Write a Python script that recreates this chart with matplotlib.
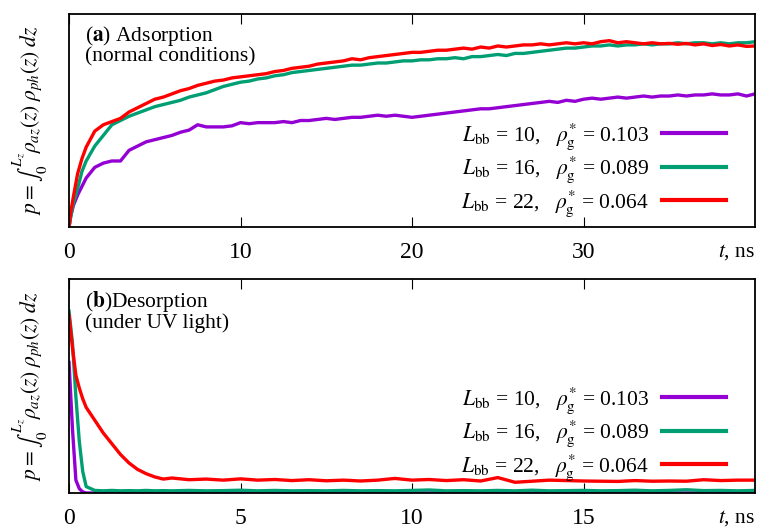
import matplotlib
matplotlib.use('Agg')
import matplotlib.pyplot as plt

plt.rcParams['font.family'] = ['Liberation Serif', 'DejaVu Serif']
plt.rcParams['mathtext.fontset'] = 'stix'
plt.rcParams['font.size'] = 15.5

# === Data (p normalised to the panel height) ===
t_ads = [0, 0.1, 0.25, 0.5, 0.75, 1.0, 1.5, 2.0, 2.5, 3.0, 3.5, 4.0, 4.5, 5.0, 5.5, 6.0,
         6.5, 7.0, 7.5, 8.0, 8.5, 9.0, 9.5, 10.0, 10.5, 11.0, 11.5, 12.0, 12.5, 13.0,
         13.5, 14.0, 14.5, 15.0, 15.5, 16.0, 16.5, 17.0, 17.5, 18.0, 18.5, 19.0, 19.5,
         20.0, 20.5, 21.0, 21.5, 22.0, 22.5, 23.0, 23.5, 24.0, 24.5, 25.0, 25.5, 26.0,
         26.5, 27.0, 27.5, 28.0, 28.5, 29.0, 29.5, 30.0, 30.5, 31.0, 31.5, 32.0, 32.5,
         33.0, 33.5, 34.0, 34.5, 35.0, 35.5, 36.0, 36.5, 37.0, 37.5, 38.0, 38.5, 39.0,
         39.5, 40.0]

ads_10 = [0, 0.05, 0.10, 0.15, 0.19, 0.23, 0.28, 0.30, 0.31, 0.31, 0.36, 0.38, 0.40, 0.41,
          0.42, 0.43, 0.445, 0.455, 0.48, 0.47, 0.47, 0.47, 0.475, 0.49, 0.485, 0.49, 0.49,
          0.49, 0.495, 0.49, 0.50, 0.50, 0.505, 0.51, 0.505, 0.51, 0.515, 0.515, 0.52, 0.525,
          0.52, 0.525, 0.52, 0.515, 0.52, 0.525, 0.53, 0.535, 0.54, 0.545, 0.55, 0.555, 0.555,
          0.56, 0.565, 0.57, 0.575, 0.58, 0.585, 0.59, 0.585, 0.595, 0.59, 0.60, 0.605, 0.60,
          0.605, 0.61, 0.605, 0.61, 0.615, 0.61, 0.615, 0.615, 0.62, 0.615, 0.62, 0.62, 0.625,
          0.62, 0.62, 0.625, 0.615, 0.625]

ads_16 = [0, 0.05, 0.11, 0.18, 0.26, 0.31, 0.38, 0.43, 0.48, 0.50, 0.52, 0.535, 0.55, 0.565,
          0.575, 0.585, 0.595, 0.61, 0.62, 0.63, 0.645, 0.66, 0.67, 0.68, 0.685, 0.695, 0.70,
          0.71, 0.715, 0.725, 0.73, 0.735, 0.74, 0.745, 0.75, 0.755, 0.76, 0.76, 0.765, 0.77,
          0.77, 0.775, 0.78, 0.78, 0.785, 0.785, 0.79, 0.79, 0.795, 0.79, 0.80, 0.80, 0.805,
          0.81, 0.805, 0.815, 0.815, 0.82, 0.825, 0.83, 0.835, 0.84, 0.84, 0.845, 0.85, 0.85,
          0.855, 0.85, 0.855, 0.855, 0.86, 0.855, 0.86, 0.86, 0.865, 0.86, 0.865, 0.865, 0.86,
          0.865, 0.86, 0.865, 0.865, 0.87]

ads_22 = [0, 0.07, 0.14, 0.25, 0.32, 0.375, 0.45, 0.48, 0.495, 0.51, 0.54, 0.56, 0.58, 0.60,
          0.61, 0.625, 0.64, 0.65, 0.665, 0.675, 0.685, 0.69, 0.70, 0.705, 0.71, 0.715, 0.72,
          0.73, 0.735, 0.745, 0.75, 0.755, 0.765, 0.77, 0.775, 0.78, 0.79, 0.785, 0.795, 0.80,
          0.805, 0.81, 0.815, 0.82, 0.82, 0.825, 0.83, 0.83, 0.835, 0.84, 0.835, 0.845, 0.84,
          0.85, 0.845, 0.85, 0.855, 0.855, 0.86, 0.855, 0.86, 0.865, 0.86, 0.865, 0.86, 0.87,
          0.875, 0.865, 0.87, 0.865, 0.86, 0.865, 0.86, 0.862, 0.858, 0.862, 0.855, 0.86,
          0.852, 0.857, 0.85, 0.855, 0.848, 0.85]

t_des = [0, 0.1, 0.2, 0.3, 0.4, 0.5, 0.75, 1.0, 1.25, 1.5, 1.75, 2.0, 2.25, 2.5, 2.75,
         3.0, 3.5, 4.0, 4.5, 5.0, 5.5, 6.0, 6.5, 7.0, 7.5, 8.0, 8.5, 9.0, 9.5, 10.0, 10.5,
         11.0, 11.5, 12.0, 12.5, 13.0, 13.5, 14.0, 14.5, 15.0, 15.5, 16.0, 16.5, 17.0, 17.5,
         18.0, 18.5, 19.0, 19.5, 20.0]

des_10 = [0.61, 0.30, 0.06, 0.02, 0.005, 0.0, 0.0, 0.0, 0.0, 0.0, 0.0, 0.0, 0.0, 0.0, 0.0,
          0.0, 0.0, 0.0, 0.0, 0.0, 0.0, 0.0, 0.0, 0.0, 0.0, 0.0, 0.0, 0.0, 0.0, 0.0, 0.0,
          0.0, 0.0, 0.0, 0.0, 0.0, 0.0, 0.0, 0.0, 0.0, 0.0, 0.0, 0.0, 0.0, 0.0, 0.0, 0.0,
          0.0, 0.0, 0.0]

des_16 = [0.85, 0.70, 0.45, 0.24, 0.10, 0.03, 0.012, 0.01, 0.012, 0.01, 0.011, 0.01, 0.012,
          0.01, 0.011, 0.01, 0.012, 0.01, 0.011, 0.013, 0.01, 0.012, 0.01, 0.011, 0.01, 0.012,
          0.01, 0.011, 0.01, 0.012, 0.014, 0.01, 0.011, 0.01, 0.012, 0.01, 0.013, 0.01, 0.011,
          0.012, 0.01, 0.011, 0.013, 0.01, 0.012, 0.015, 0.011, 0.012, 0.01, 0.012]

des_22 = [0.83, 0.68, 0.55, 0.49, 0.44, 0.40, 0.34, 0.28, 0.23, 0.18, 0.14, 0.11, 0.09, 0.075,
          0.065, 0.07, 0.062, 0.065, 0.06, 0.066, 0.06, 0.063, 0.058, 0.062, 0.057, 0.06,
          0.056, 0.06, 0.068, 0.06, 0.063, 0.058, 0.062, 0.056, 0.072, 0.05, 0.055, 0.06,
          0.058, 0.056, 0.055, 0.054, 0.058, 0.055, 0.056, 0.055, 0.062, 0.058, 0.06, 0.06]

labels = [r'$L_{\mathrm{bb}}$ = 10,   $\rho^{*}_{\mathrm{g}}$ = 0.103',
          r'$L_{\mathrm{bb}}$ = 16,   $\rho^{*}_{\mathrm{g}}$ = 0.089',
          r'$L_{\mathrm{bb}}$ = 22,   $\rho^{*}_{\mathrm{g}}$ = 0.064']
colors = ['#9400D3', '#009E73', '#FF0000']

ylabel = r'$p = \int_0^{L_z} \rho_{az}(z)\; \rho_{ph}(z)\; dz$'

# === Plot ===
fig = plt.figure(figsize=(7.61, 5.31), dpi=100)
ax_a = fig.add_axes([0.0907, 0.5725, 0.9015, 0.4011])
ax_b = fig.add_axes([0.0907, 0.0716, 0.9015, 0.4030])

panels = [
    (ax_a, t_ads, [ads_10, ads_16, ads_22], 40, [0, 10, 20, 30], 0.267,
     r'($\mathbf{a}$) Adsorption' + '\n(normal conditions)'),
    (ax_b, t_des, [des_10, des_16, des_22], 20, [0, 5, 10, 15], 0.276,
     r'($\mathbf{b}$)Desorption' + '\n(under UV light)'),
]

for ax, t, series, tmax, ticks, leg_y, title in panels:
    for y, c, lab in zip(series, colors, labels):
        ax.plot(t, y, color=c, lw=2.4, label=lab, solid_joinstyle='round')
    ax.set_xlim(0, tmax)
    ax.set_ylim(0, 1)
    ax.set_xticks(ticks)
    ax.set_yticks([])
    ax.tick_params(axis='x', direction='in', top=True, length=7, width=0.8, pad=11, labelsize=17)
    for sp in ax.spines.values():
        sp.set_linewidth(1.3)
    ax.set_ylabel(ylabel, fontsize=15.5)
    ax.yaxis.set_label_coords(-0.027, 0.5)
    ax.text(1.0, -0.117, r'$t$, ns', transform=ax.transAxes, ha='right', va='center', fontsize=15.5)
    ax.text(0.023, 0.955, title, transform=ax.transAxes, ha='left', va='top', fontsize=15.5,
            linespacing=0.95)
    leg = ax.legend(loc='center right', bbox_to_anchor=(0.98, leg_y), frameon=False,
                    markerfirst=False, handlelength=3.0, handletextpad=0.6,
                    labelspacing=0.12, fontsize=15.5, borderpad=0.2)
    for h in leg.get_lines():
        h.set_linewidth(3)

fig.savefig('out.png', dpi=100)
